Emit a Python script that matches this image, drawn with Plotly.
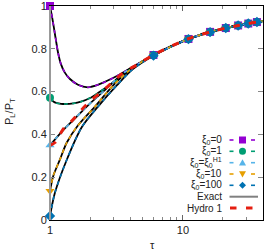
import plotly.graph_objects as go

# ---- data ----
TAU_XI0 = [1, 1.023, 1.053, 1.085, 1.115, 1.148, 1.203, 1.29, 1.406, 1.623, 1.93, 2.38, 3.08, 4.2, 6, 11, 16, 21, 26, 31, 36, 40]
VAL_XI0 = [1.0, 0.968, 0.925, 0.875, 0.83, 0.784, 0.732, 0.69, 0.66, 0.632, 0.62, 0.636, 0.668, 0.716, 0.771, 0.846, 0.879, 0.897, 0.909, 0.918, 0.925, 0.93]

TAU_XI1 = [1, 1.053, 1.129, 1.21, 1.297, 1.5, 1.71, 2.0, 2.295, 3.08, 4.2, 6, 11, 16, 21, 26, 31, 36, 40]
VAL_XI1 = [0.571, 0.555, 0.546, 0.543, 0.542, 0.545, 0.553, 0.57, 0.593, 0.648, 0.713, 0.77, 0.846, 0.879, 0.897, 0.909, 0.918, 0.925, 0.93]

TAU_XIH1 = [1, 1.12, 1.259, 1.497, 1.942, 2.67, 3.54, 4.49, 6, 11, 16, 21, 26, 31, 36, 40]
VAL_XIH1 = [0.349, 0.385, 0.42, 0.467, 0.537, 0.615, 0.685, 0.724, 0.771, 0.846, 0.879, 0.897, 0.909, 0.918, 0.925, 0.93]

TAU_XI10 = [1, 1.058, 1.189, 1.335, 1.596, 2.18, 2.977, 4.2, 6, 11, 16, 21, 26, 31, 36, 40]
VAL_XI10 = [0.136, 0.206, 0.283, 0.361, 0.436, 0.53, 0.628, 0.712, 0.77, 0.846, 0.879, 0.897, 0.909, 0.918, 0.925, 0.93]

TAU_XI100 = [1, 1.09, 1.342, 1.741, 2.295, 3.19, 4.2, 6, 11, 16, 21, 26, 31, 36, 40]
VAL_XI100 = [0.019, 0.128, 0.284, 0.436, 0.53, 0.63, 0.705, 0.768, 0.845, 0.878, 0.897, 0.909, 0.918, 0.925, 0.93]

TAU_HYDRO1 = [1, 1.09, 1.259, 1.455, 1.886, 2.67, 3.54, 4.49, 6, 11, 16, 21, 26, 31, 36, 40]
VAL_HYDRO1 = [0.349, 0.362, 0.425, 0.462, 0.54, 0.62, 0.687, 0.725, 0.772, 0.847, 0.879, 0.897, 0.909, 0.918, 0.925, 0.93]

MARKER_TAUS = [1, 6, 11, 16, 21, 26, 31, 36]

SERIES = [
    ("ξ<sub>0</sub>=0", TAU_XI0, VAL_XI0, "#9400D3", "square"),
    ("ξ<sub>0</sub>=1", TAU_XI1, VAL_XI1, "#009E73", "circle"),
    ("ξ<sub>0</sub>=ξ<sub>0</sub><sup>H1</sup>", TAU_XIH1, VAL_XIH1, "#56B4E9", "triangle-up"),
    ("ξ<sub>0</sub>=10", TAU_XI10, VAL_XI10, "#E69F00", "triangle-down"),
    ("ξ<sub>0</sub>=100", TAU_XI100, VAL_XI100, "#0072B2", "diamond"),
]
EXACT_LABEL = "Exact"
HYDRO_LABEL = "Hydro 1"
HYDRO_COLOR = "#E51E10"

X_TICKS = [1, 10]
X_TICKTEXT = ["1", "10"]
X_MINOR = [2, 3, 4, 5, 6, 7, 8, 9, 20, 30]
Y_TICKS = [0, 0.2, 0.4, 0.6, 0.8, 1]
Y_TICKTEXT = ["0", "0.2", "0.4", "0.6", "0.8", "1"]

W, H = 266, 252
ML, MR, MT, MB = 50, 3, 6, 32
PW, PH = W - ML - MR, H - MT - MB

fig = go.Figure()

# exact solutions (black solid)
for name, t, v, col, sym in SERIES:
    fig.add_trace(go.Scatter(x=t, y=v, mode="lines",
                             line=dict(color="black", width=1.8, shape="spline", smoothing=0.8),
                             showlegend=False, hoverinfo="skip"))

# approximate curves (coloured dashed) with markers at every fifth unit of tau
for name, t, v, col, sym in SERIES:
    colors = [col if tt in MARKER_TAUS else "rgba(0,0,0,0)" for tt in t]
    fig.add_trace(go.Scatter(x=t, y=v, mode="lines+markers", name=name, showlegend=False,
                             line=dict(color=col, width=1.6, dash="4px,4px", shape="spline", smoothing=0.8),
                             marker=dict(symbol=sym, size=8, color=colors, line=dict(width=0)),
                             cliponaxis=False))

fig.add_trace(go.Scatter(x=TAU_HYDRO1, y=VAL_HYDRO1, mode="lines", name=HYDRO_LABEL, showlegend=False,
                         line=dict(color=HYDRO_COLOR, width=3, dash="7px,9px", shape="spline", smoothing=0.8)))


# ---- hand-made legend in gnuplot style (text, then sample) ----
def px(xp):
    return (xp - ML) / PW


def py(yp):
    return (H - MB - yp) / PH


annotations = []
shapes = [
    dict(type="line", xref="paper", yref="paper", x0=0, x1=0, y0=0, y1=1,
         line=dict(color="#999", width=2), layer="above"),
]
row_y = [140, 151.3, 162.7, 174, 185.3, 196.7, 208]
TEXT_RIGHT = 224
labels = [s[0] for s in SERIES] + [EXACT_LABEL, HYDRO_LABEL]
for lab, yy in zip(labels, row_y):
    annotations.append(dict(text=lab, xref="paper", yref="paper", x=px(TEXT_RIGHT), y=py(yy),
                            xanchor="right", yanchor="middle", showarrow=False,
                            font=dict(size=10, color="#222")))


def marker_shape(sym, cx, cy, col, r=3.5):
    if sym == "square":
        return dict(type="rect", xref="paper", yref="paper", x0=px(cx - r), x1=px(cx + r),
                    y0=py(cy + r), y1=py(cy - r), fillcolor=col, line=dict(width=0))
    if sym == "circle":
        return dict(type="circle", xref="paper", yref="paper", x0=px(cx - r), x1=px(cx + r),
                    y0=py(cy + r), y1=py(cy - r), fillcolor=col, line=dict(width=0))
    if sym == "triangle-up":
        pts = [(cx, cy - r), (cx + r, cy + r * 0.8), (cx - r, cy + r * 0.8)]
    elif sym == "triangle-down":
        pts = [(cx, cy + r), (cx + r, cy - r * 0.8), (cx - r, cy - r * 0.8)]
    else:
        pts = [(cx, cy - r), (cx + r, cy), (cx, cy + r), (cx - r, cy)]
    path = "M " + " L ".join(f"{px(a):.5f},{py(b):.5f}" for a, b in pts) + " Z"
    return dict(type="path", xref="paper", yref="paper", path=path, fillcolor=col, line=dict(width=0))


for (name, t, v, col, sym), yy in zip(SERIES, row_y[:5]):
    for xa, xb in [(229.5, 233.5), (251, 255)]:
        shapes.append(dict(type="line", xref="paper", yref="paper", x0=px(xa), x1=px(xb), y0=py(yy), y1=py(yy),
                           line=dict(color=col, width=1.6)))
    shapes.append(marker_shape(sym, 242.5, yy, col))

shapes.append(dict(type="line", xref="paper", yref="paper", x0=px(229.5), x1=px(258), y0=py(row_y[5]),
                   y1=py(row_y[5]), line=dict(color="#808080", width=2)))
for xa, xb in [(230, 236.5), (246, 252.5)]:
    shapes.append(dict(type="line", xref="paper", yref="paper", x0=px(xa), x1=px(xb), y0=py(row_y[6]),
                       y1=py(row_y[6]), line=dict(color=HYDRO_COLOR, width=3)))

annotations += [
    dict(text="P<sub>L</sub>/P<sub>T</sub>", xref="paper", yref="paper", x=px(10), y=py(112),
         textangle=-90, showarrow=False, xanchor="center", yanchor="middle", font=dict(size=11, color="#222")),
    dict(text="τ", xref="paper", yref="paper", x=px(152), y=py(245), showarrow=False,
         xanchor="center", yanchor="middle", font=dict(size=11, color="#222")),
]

fig.update_layout(
    width=W, height=H,
    margin=dict(l=ML, r=MR, t=MT, b=MB, autoexpand=False),
    paper_bgcolor="white", plot_bgcolor="white",
    font=dict(family="Liberation Sans, Arial, sans-serif", size=11, color="#222"),
    showlegend=False,
    hovermode=False,
    xaxis=dict(type="log", range=[0, 1.60206], tickvals=X_TICKS, ticktext=X_TICKTEXT,
               ticks="inside", ticklen=5, tickcolor="#666", showgrid=False, zeroline=False,
               showline=True, linecolor="black", linewidth=1, mirror="allticks", ticklabeloverflow="allow",
               minor=dict(tickvals=X_MINOR, ticks="inside", ticklen=3, tickcolor="#888")),
    yaxis=dict(range=[0, 1], tickvals=Y_TICKS, ticktext=Y_TICKTEXT, ticklabeloverflow="allow",
               ticks="inside", ticklen=5, tickcolor="#888", showgrid=False, zeroline=False,
               showline=True, linecolor="black", linewidth=1, mirror="allticks"),
    annotations=annotations,
    shapes=shapes,
)

fig.write_html("out.html", config={"displayModeBar": False, "staticPlot": True},
               post_script="document.body.style.margin='0';document.body.style.padding='0';")
